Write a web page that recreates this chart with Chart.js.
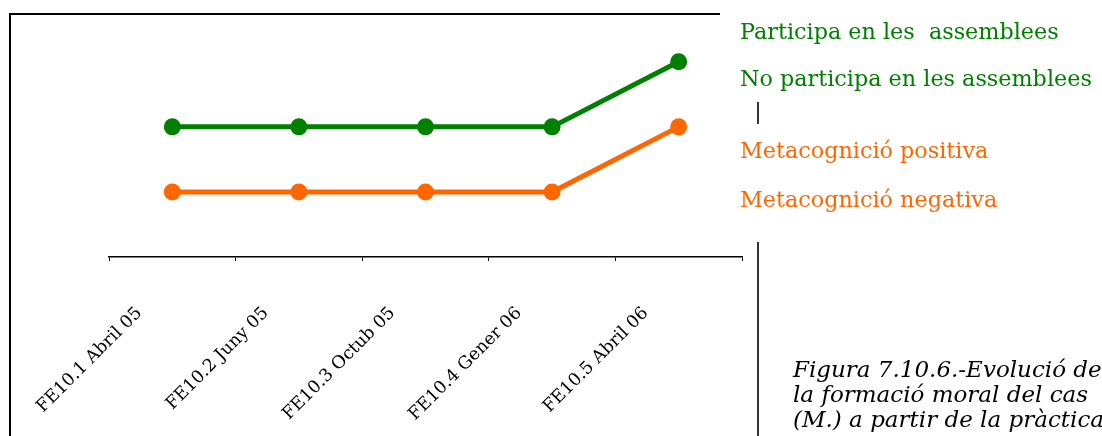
<!DOCTYPE html>
<html>
<head>
<meta charset="utf-8">
<script src="https://cdn.jsdelivr.net/npm/chart.js@4"></script>
<style>
  body { margin: 0; background: #fff; overflow: hidden; }
  #wrap { position: relative; width: 1102px; height: 436px; overflow: hidden; }
  .txt { position: absolute; white-space: nowrap; font-family: "DejaVu Serif", serif; font-size: 22.3px; line-height: 22px; }
  .green { color: #008000; }
  .orange { color: #ff6600; }
  .cap { position: absolute; left: 793px; top: 357px; font-family: "DejaVu Serif", serif; font-style: italic; font-size: 23px; line-height: 25px; color: #000; white-space: nowrap; }
  .ln { position: absolute; background: #000; }
</style>
</head>
<body>
<div id="wrap">
  <canvas id="myChart" width="1102" height="436"></canvas>
  <div class="ln" style="left:10px;top:13px;width:710px;height:2px"></div>
  <div class="ln" style="left:9px;top:13px;width:2px;height:423px"></div>
  <div class="ln" style="left:757px;top:102px;width:2px;height:22px;background:#333"></div>
  <div class="ln" style="left:757px;top:242px;width:2px;height:194px;background:#333"></div>
  <div class="txt green" style="left:740px;top:20px">Participa en les&nbsp; assemblees</div>
  <div class="txt green" style="left:740px;top:67px">No participa en les assemblees</div>
  <div class="txt orange" style="left:740px;top:139px">Metacognició positiva</div>
  <div class="txt orange" style="left:740px;top:188px">Metacognició negativa</div>
  <div class="cap">Figura 7.10.6.-Evolució de<br>la formació moral del cas<br>(M.) a partir de la pràctica</div>
</div>
<script>
  var categories = ['FE10.1 Abril 05', 'FE10.2 Juny 05', 'FE10.3 Octub 05', 'FE10.4 Gener 06', 'FE10.5 Abril 06'];
  var participa = [3, 3, 3, 3, 4];
  var metacognicio = [2, 2, 2, 2, 3];

  var green = '#008000';
  var orange = '#ff6600';

  new Chart('myChart', {
      type: 'line',
      data: {
          labels: categories,
          datasets: [{
              data: participa,
              borderColor: green,
              backgroundColor: green,
              pointBackgroundColor: green,
              borderWidth: 5,
              pointRadius: 8.5,
              pointBorderWidth: 0,
              tension: 0
          }, {
              data: metacognicio,
              borderColor: orange,
              backgroundColor: orange,
              pointBackgroundColor: orange,
              borderWidth: 5,
              pointRadius: 8.5,
              pointBorderWidth: 0,
              tension: 0
          }]
      },
      options: {
          responsive: false,
          animation: false,
          layout: {
              padding: { left: 109, right: 360, top: 13, bottom: 0 }
          },
          plugins: {
              legend: { display: false },
              tooltip: { enabled: false }
          },
          scales: {
              x: {
                  offset: true,
                  grid: {
                      offset: true,
                      drawOnChartArea: false,
                      drawTicks: true,
                      tickLength: 4,
                      color: '#000'
                  },
                  border: { display: true, color: '#000', width: 1.5 },
                  ticks: {
                      autoSkip: false,
                      minRotation: 45,
                      maxRotation: 45,
                      labelOffset: -33,
                      padding: 42,
                      color: '#000',
                      font: { family: 'DejaVu Serif', size: 17.5 }
                  },
                  afterFit: function (scale) {
                      scale.height = 179;
                  }
              },
              y: {
                  display: false,
                  min: 1,
                  max: 4.75
              }
          }
      }
  });
</script>
</body>
</html>
